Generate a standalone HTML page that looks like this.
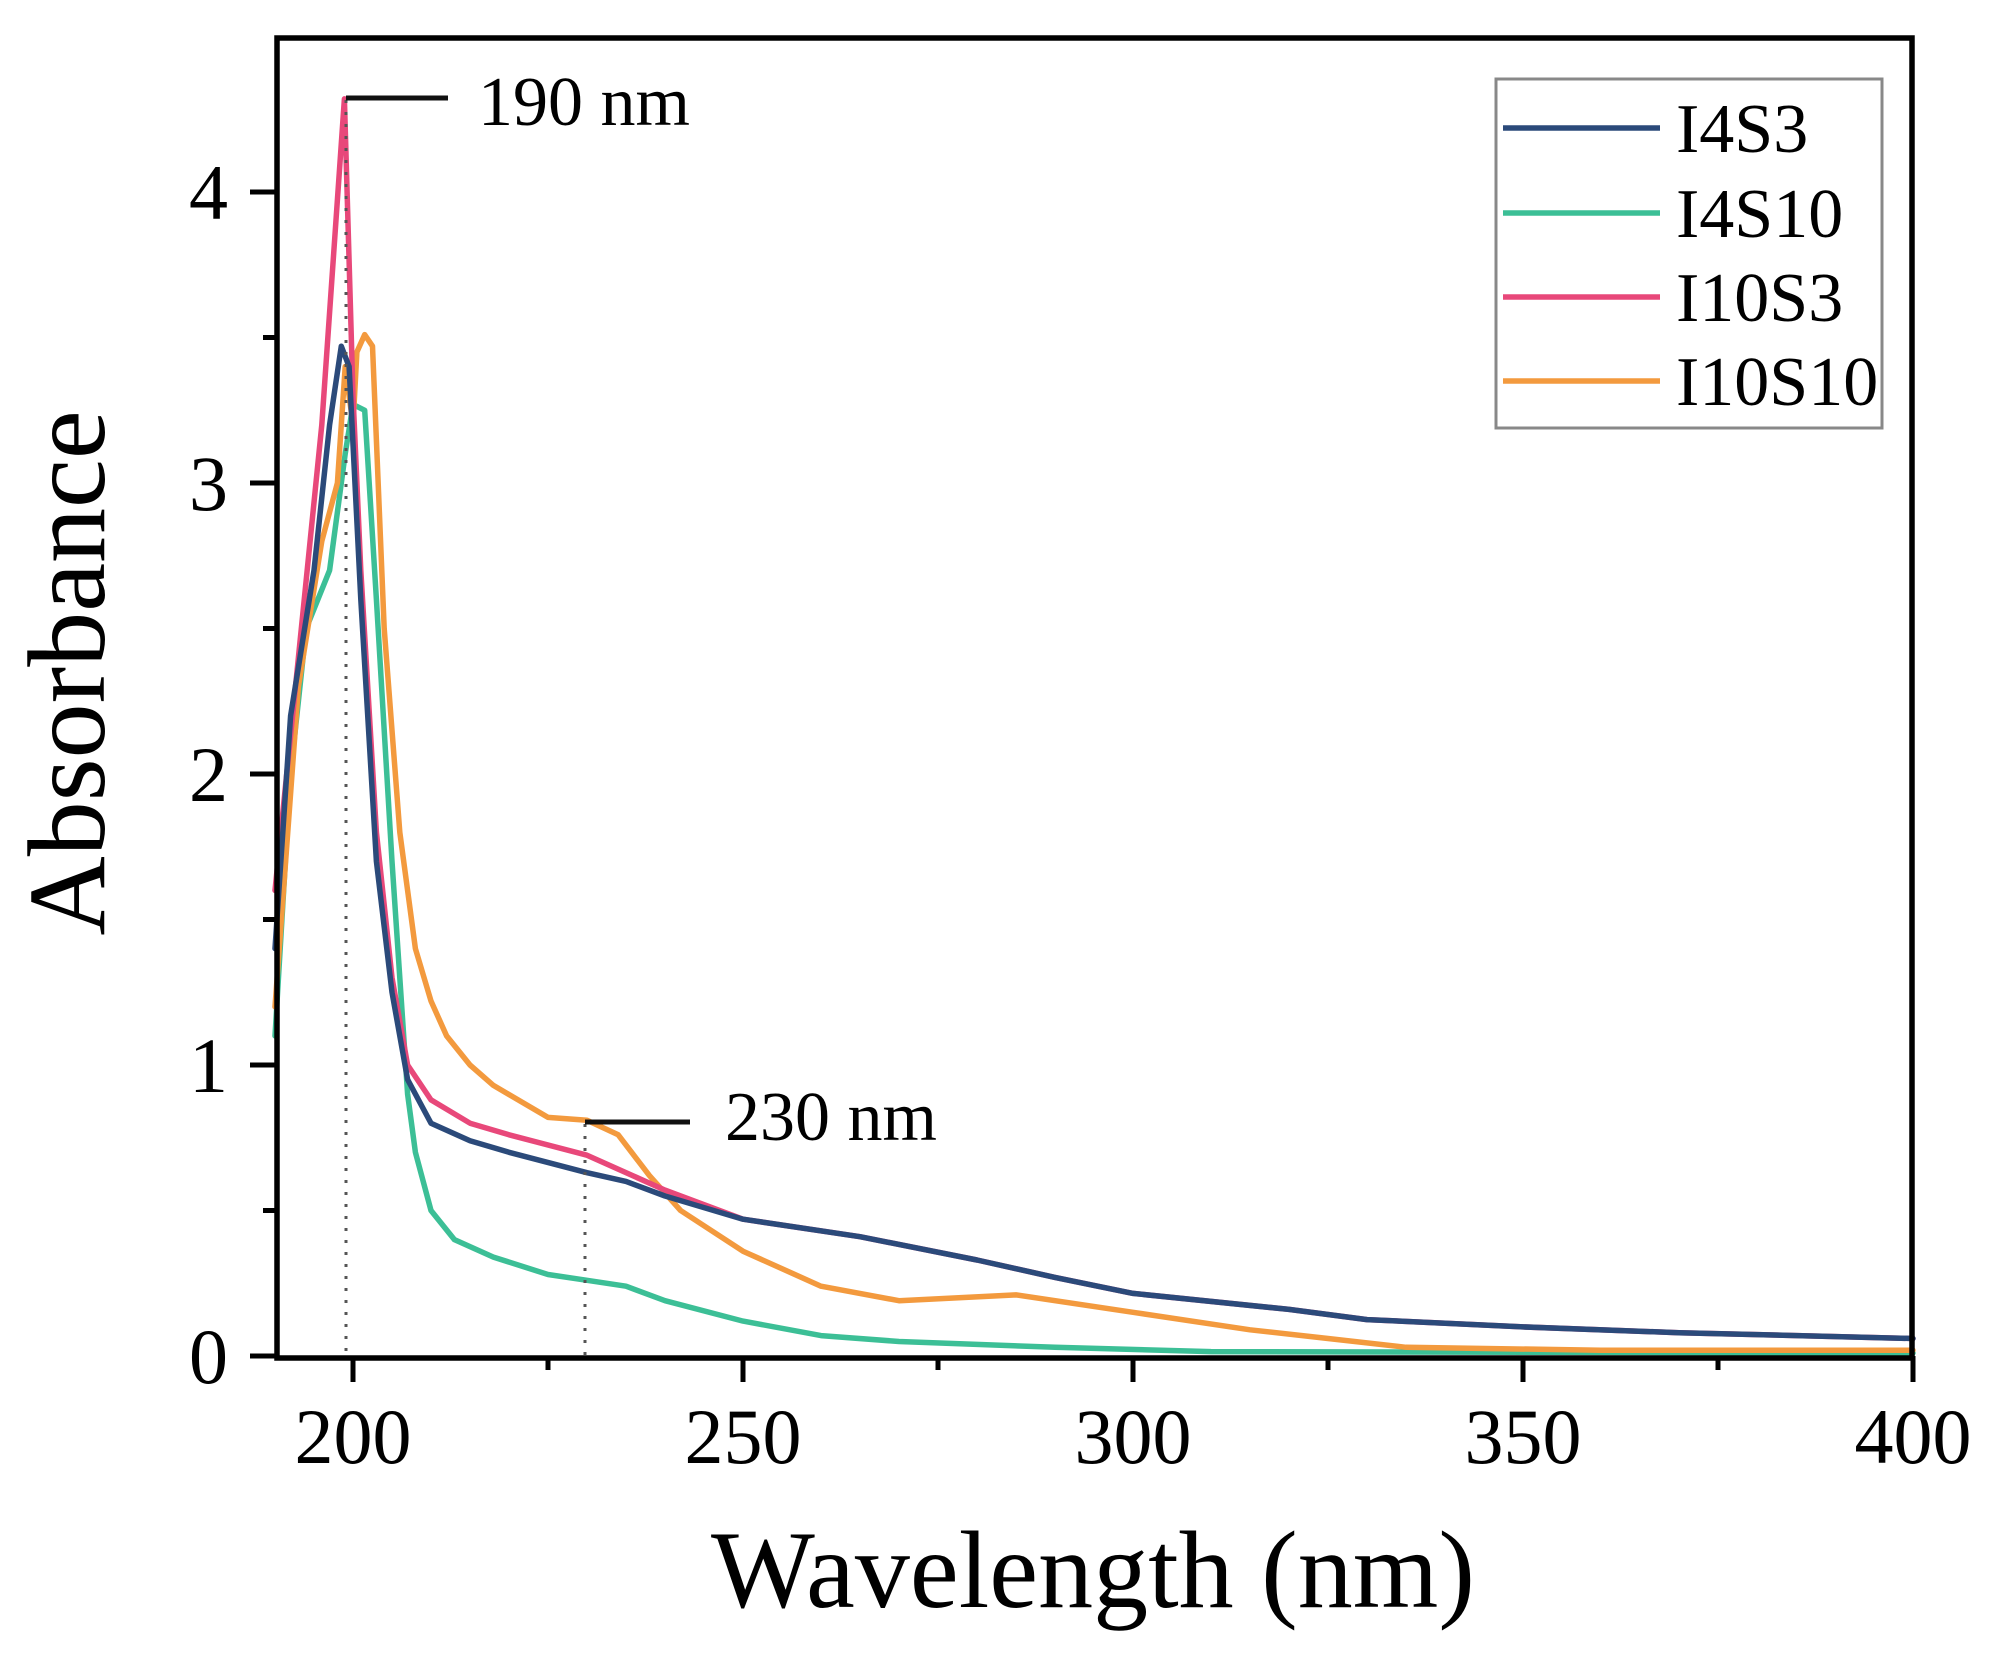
<!DOCTYPE html>
<html><head><meta charset="utf-8"><style>
html,body{margin:0;padding:0;background:#fff;}
svg{display:block;font-family:"Liberation Serif",serif;}
</style></head><body>
<svg id="s" width="1993" height="1673" viewBox="0 0 1993 1673" xmlns="http://www.w3.org/2000/svg">
<rect width="1993" height="1673" fill="#fff"/>
<g id="curves" fill="none" stroke-width="5.5" stroke-linejoin="round" stroke-linecap="round"></g>
<g stroke="#555" stroke-width="3" stroke-dasharray="3,9">
<line x1="346" y1="100" x2="346" y2="1356"/>
<line x1="585" y1="1124" x2="585" y2="1356"/>
</g>
<line x1="346" y1="98" x2="448" y2="98" stroke="#111" stroke-width="5"/>
<text x="478" y="125" font-size="70">190 nm</text>
<line x1="585" y1="1122" x2="690" y2="1122" stroke="#111" stroke-width="5"/>
<text x="725" y="1140" font-size="70">230 nm</text>
<g stroke="#000" stroke-width="5.5" fill="none">
<rect x="277" y="38" width="1635" height="1320"/>
</g>
<g id="ticks" stroke="#000" stroke-width="5"></g>
<g id="labels" font-size="78"></g>
<rect x="1496" y="79" width="386" height="349" fill="#fff" stroke="#888" stroke-width="3"/>
<g stroke-width="5.5">
<line x1="1503" y1="128" x2="1660" y2="128" stroke="#2b4a7a"/>
<line x1="1503" y1="213" x2="1660" y2="213" stroke="#3cbf96"/>
<line x1="1503" y1="297" x2="1660" y2="297" stroke="#e8487a"/>
<line x1="1503" y1="381" x2="1660" y2="381" stroke="#f39a3e"/>
</g>
<g font-size="70">
<text x="1676" y="152">I4S3</text>
<text x="1676" y="237">I4S10</text>
<text x="1676" y="321">I10S3</text>
<text x="1676" y="405">I10S10</text>
</g>
<text x="1093" y="1607" font-size="110" text-anchor="middle">Wavelength (nm)</text>
<text transform="translate(104,673) rotate(-90)" font-size="110" text-anchor="middle">Absorbance</text>
</svg>
<script>
var X=function(n){return 353+(n-200)*7.8;},Y=function(v){return 1356-v*291;};
var ns="http://www.w3.org/2000/svg";
function el(p,t,a,txt){var e=document.createElementNS(ns,t);for(var k in a)e.setAttribute(k,a[k]);if(txt)e.textContent=txt;p.appendChild(e);return e;}
var tail=[[250,0.47],[265,0.41],[280,0.33],[290,0.27],[300,0.215],[320,0.16],[330,0.125],[350,0.1],[370,0.08],[400,0.06]];
var D={
"#3cbf96":[[190,1.1],[192,2.0],[194,2.5],[197,2.7],[199,3.1],[200,3.27],[201.5,3.25],[203,2.6],[205,1.7],[207,0.9],[208,0.7],[210,0.5],[213,0.4],[218,0.34],[225,0.28],[230,0.26],[235,0.24],[240,0.19],[250,0.12],[260,0.07],[270,0.05],[290,0.03],[310,0.015],[400,0.01]],
"#f39a3e":[[190,1.2],[193,2.3],[196,2.8],[198,3.0],[199,3.4],[200,3.2],[200.5,3.45],[201.5,3.51],[202.5,3.47],[204,2.5],[206,1.8],[208,1.4],[210,1.22],[212,1.1],[215,1.0],[218,0.93],[225,0.82],[230,0.81],[234,0.76],[238,0.62],[242,0.5],[250,0.36],[260,0.24],[270,0.19],[285,0.21],[300,0.15],[315,0.09],[325,0.06],[335,0.03],[360,0.02],[400,0.02]],
"#e8487a":[[190,1.6],[193,2.4],[196,3.2],[198.9,4.32],[200,3.3],[201,2.7],[203,1.8],[205,1.3],[207,1.0],[210,0.88],[215,0.8],[220,0.76],[230,0.69],[240,0.57]].concat(tail),
"#2b4a7a":[[190,1.4],[192,2.2],[195,2.7],[197,3.2],[198.5,3.47],[199.5,3.4],[201,2.6],[203,1.7],[205,1.25],[207,0.95],[210,0.8],[215,0.74],[220,0.7],[230,0.63],[235,0.6],[240,0.55]].concat(tail)
};
var g=document.getElementById("curves");
for(var c in D){el(g,"polyline",{stroke:c,points:D[c].map(function(p){return X(p[0]).toFixed(1)+","+Y(p[1]).toFixed(1);}).join(" ")});}
var t=document.getElementById("ticks"),L=document.getElementById("labels");
for(var n=200;n<=400;n+=25){var maj=n%50==0;el(t,"line",{x1:X(n),x2:X(n),y1:1356,y2:maj?1382:1370});if(maj)el(L,"text",{x:X(n),y:1463,"text-anchor":"middle"},String(n));}
for(var v=0;v<=4.01;v+=0.5){var maj=Math.abs(v-Math.round(v))<0.01;el(t,"line",{x1:maj?250:263,x2:277,y1:Y(v),y2:Y(v)});if(maj)el(L,"text",{x:228,y:Y(v)+27,"text-anchor":"end"},String(Math.round(v)));}
</script>
</body></html>
